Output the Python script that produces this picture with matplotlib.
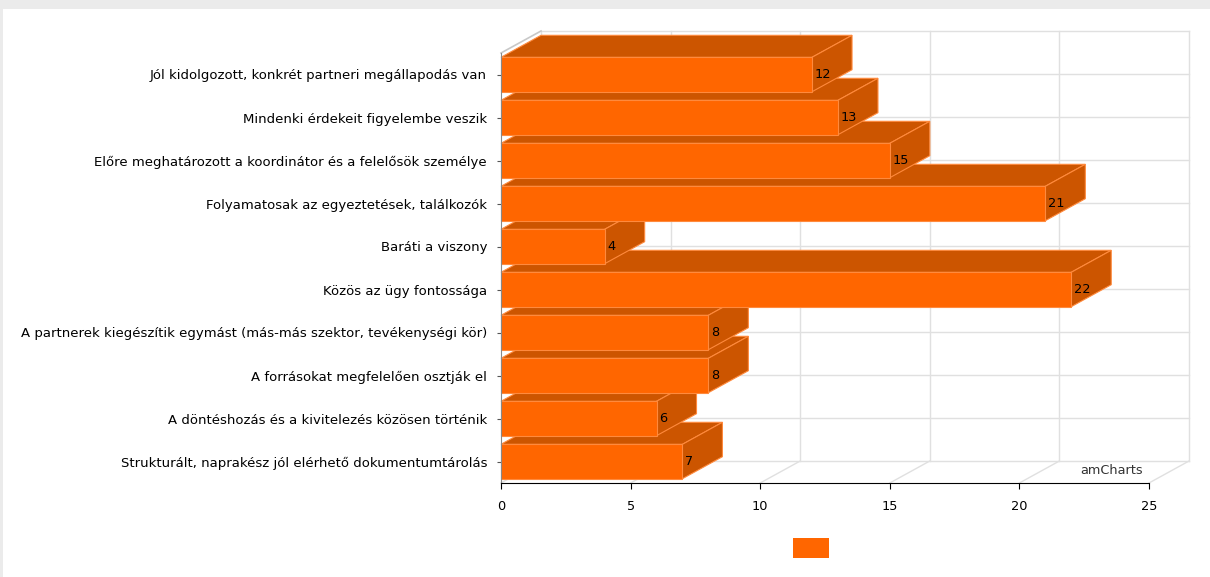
import matplotlib
matplotlib.use('Agg')
import matplotlib.pyplot as plt
from matplotlib.patches import Polygon, Patch, Rectangle

categories = [
    'Jól kidolgozott, konkrét partneri megállapodás van',
    'Mindenki érdekeit figyelembe veszik',
    'Előre meghatározott a koordinátor és a felelősök személye',
    'Folyamatosak az egyeztetések, találkozók',
    'Baráti a viszony',
    'Közös az ügy fontossága',
    'A partnerek kiegészítik egymást (más-más szektor, tevékenységi kör)',
    'A forrásokat megfelelően osztják el',
    'A döntéshozás és a kivitelezés közösen történik',
    'Strukturált, naprakész jól elérhető dokumentumtárolás',
]
values = [12, 13, 15, 21, 4, 22, 8, 8, 6, 7]
xticks = [0, 5, 10, 15, 20, 25]

FRONT = '#FF6600'
SIDE = '#CC5500'
EDGE = '#FF8A3D'
GRID = '#E0E0E0'

W, H = 1210, 577
fig = plt.figure(figsize=(W / 100, H / 100), dpi=100)
fig.patch.set_facecolor('white')
# gray page strips along the top and left edge
fig.patches.append(Rectangle((0, 1 - 9 / H), 1, 9 / H, transform=fig.transFigure,
                             facecolor='#EBEBEB', edgecolor='none', zorder=-5))
fig.patches.append(Rectangle((0, 0), 3 / W, 1, transform=fig.transFigure,
                             facecolor='#EBEBEB', edgecolor='none', zorder=-5))

# front plane of the plot area, in pixels
left, right, top, bottom = 501, 1149, 53, 483
ax = fig.add_axes([left / W, 1 - bottom / H, (right - left) / W, (bottom - top) / H])
ax.set_facecolor('none')
n = len(categories)
xmax = xticks[-1]
ax.set_xlim(0, xmax)
ax.set_ylim(n - 0.5, -0.5)

# 3D depth offset (40 px right, 22 px up) expressed in data units
DX = 40 * xmax / (right - left)
DY = 22 * n / (bottom - top)

# back wall, floor and left wall grid
kw = dict(color=GRID, lw=1, clip_on=False, zorder=1)
for t in xticks:
    ax.plot([t + DX, t + DX], [-0.5 - DY, n - 0.5 - DY], **kw)
    ax.plot([t, t + DX], [n - 0.5, n - 0.5 - DY], **kw)
for j in range(n + 1):
    b = j - 0.5
    ax.plot([DX, xmax + DX], [b - DY, b - DY], **kw)
ax.plot([0, DX], [-0.5, -0.5 - DY], color='#C8C8C8', lw=1.2, clip_on=False, zorder=1)

# bars: lower rows first so upper rows overlap them
h = 0.4
for i in range(n - 1, -1, -1):
    v = values[i]
    z = 10 + (n - i) * 3
    top_face = [(0, i - h), (v, i - h), (v + DX, i - h - DY), (DX, i - h - DY)]
    side_face = [(v, i - h), (v + DX, i - h - DY), (v + DX, i + h - DY), (v, i + h)]
    ax.add_patch(Polygon(top_face, closed=True, facecolor=SIDE, edgecolor=EDGE,
                         lw=0.8, clip_on=False, zorder=z))
    ax.add_patch(Polygon(side_face, closed=True, facecolor=SIDE, edgecolor=EDGE,
                         lw=0.8, clip_on=False, zorder=z + 1))
    ax.barh(i, v, height=2 * h, color=FRONT, edgecolor=EDGE, lw=0.8,
            clip_on=False, zorder=z + 2)
    ax.text(v + 0.1, i, str(v), ha='left', va='center', fontsize=9.3,
            color='black', zorder=z + 2.5)

ax.set_yticks(range(n))
ax.set_yticklabels(categories, fontsize=9.5, color='black')
ax.set_xticks(xticks)
ax.set_xticklabels([str(t) for t in xticks], fontsize=9.3, color='black')
ax.tick_params(axis='y', length=3, pad=7, color='#555555')
ax.tick_params(axis='x', length=4, pad=8, color='#000000')
for s in ('top', 'right'):
    ax.spines[s].set_visible(False)
ax.spines['bottom'].set_color('#000000')
ax.spines['bottom'].set_zorder(60)
ax.spines['left'].set_color('#888888')
ax.spines['left'].set_zorder(60)

ax.text(0.991, 0.03, 'amCharts', transform=ax.transAxes, ha='right', va='center',
        fontsize=9.3, color='#333333', zorder=2)

fig.legend(handles=[Patch(facecolor=FRONT, edgecolor='none')], labels=[''],
           loc='center', bbox_to_anchor=(811 / W, 1 - 548 / H), frameon=False,
           handlelength=2.66, handleheight=1.8, handletextpad=0, borderpad=0)

fig.savefig('out.png', dpi=100, facecolor=fig.get_facecolor())
